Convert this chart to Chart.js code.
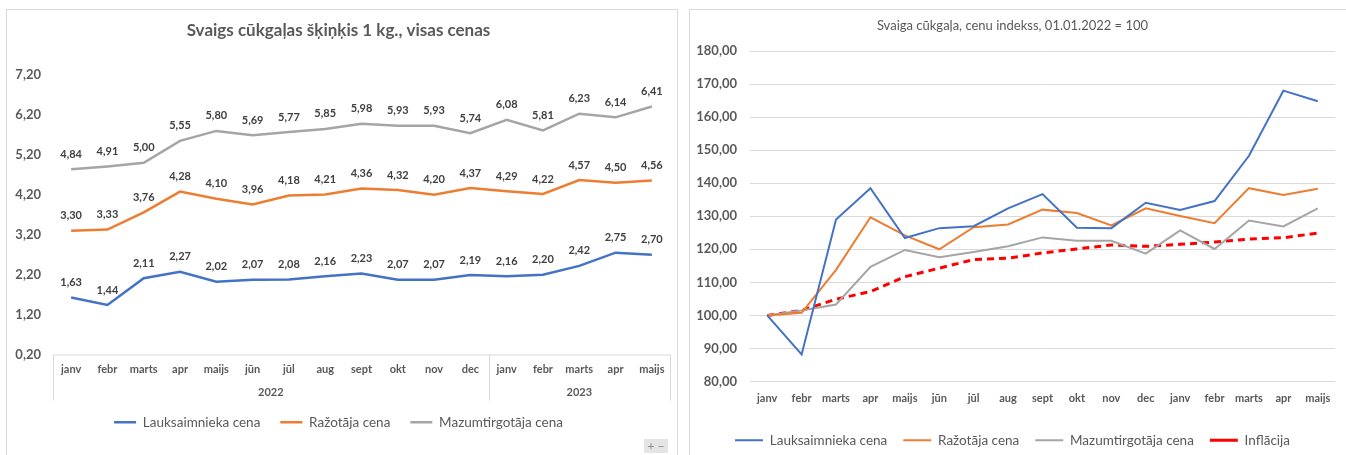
<!DOCTYPE html>
<html>
<head>
<meta charset="utf-8">
<script src="https://cdn.jsdelivr.net/npm/chart.js@4.4.1/dist/chart.umd.min.js"></script>
<style>
  body { margin:0; background:#fff; width:1346px; height:455px; overflow:hidden; position:relative; font-family:Lato, sans-serif; }
  .panel { position:absolute; border:1px solid #D9D9D9; background:#fff; }
  canvas { position:absolute; }
  .zoomctl { position:absolute; left:644px; top:439px; width:24px; height:14px; background:#E4E4E4; color:#8C8C8C; font-size:12px; line-height:13px; text-align:center; }
</style>
</head>
<body>
<div class="panel" style="left:6px;top:9px;width:670px;height:460px"></div>
<div class="panel" style="left:689px;top:9px;width:670px;height:460px"></div>
<canvas id="priceChart" width="670" height="460" style="left:7px;top:10px"></canvas>
<canvas id="indexChart" width="656" height="460" style="left:690px;top:10px"></canvas>
<div class="zoomctl">+ &minus;</div>
<script>
// months, two years
const months = ['janv','febr','marts','apr','maijs','jūn','jūl','aug','sept','okt','nov','dec','janv','febr','marts','apr','maijs']
const yearLabels = ['2022','2023']
const yearSpans = [12, 5]

// prices EUR / kg
const farmPrice     = [1.63,1.44,2.11,2.27,2.02,2.07,2.08,2.16,2.23,2.07,2.07,2.19,2.16,2.20,2.42,2.75,2.70]
const producerPrice = [3.30,3.33,3.76,4.28,4.10,3.96,4.18,4.21,4.36,4.32,4.20,4.37,4.29,4.22,4.57,4.50,4.56]
const retailPrice   = [4.84,4.91,5.00,5.55,5.80,5.69,5.77,5.85,5.98,5.93,5.93,5.74,6.08,5.81,6.23,6.14,6.41]

// index, 01.01.2022 = 100
const farmIndex     = [100,88.2,129.0,138.5,123.4,126.4,127.0,132.4,136.7,126.5,126.4,134.1,131.9,134.6,148.3,168.0,164.8]
const producerIndex = [100,100.8,113.8,129.7,124.2,120.0,126.7,127.5,132.0,131.0,127.2,132.4,130.1,127.9,138.5,136.4,138.3]
const retailIndex   = [100,101.5,103.3,114.7,119.8,117.6,119.2,120.9,123.6,122.6,122.6,118.7,125.7,120.1,128.7,126.9,132.4]
const inflation     = [100,101.5,104.9,107.2,111.7,114.3,116.9,117.3,118.9,120.1,121.3,120.9,121.5,122.2,123.1,123.5,124.9]

const seriesNames = ['Lauksaimnieka cena','Ražotāja cena','Mazumtirgotāja cena','Inflācija']
const BLUE = '#4472C4', ORANGE = '#ED7D31', GRAY = '#A5A5A5', RED = '#FF0000'
const TXT = '#595959'

Chart.defaults.font.family = "Lato, 'Open Sans', sans-serif"
Chart.defaults.color = TXT
Chart.defaults.animation = false

const comma = (v, d) => Number(v).toFixed(d).replace('.', ',')

// value labels above each point
const valueLabels = {
  id:'valueLabels',
  afterDatasetsDraw(chart){
    const ctx = chart.ctx
    ctx.save()
    ctx.font = "bold 11px Lato, sans-serif"
    ctx.fillStyle = '#404040'
    ctx.textAlign = 'center'
    ctx.textBaseline = 'middle'
    chart.data.datasets.forEach((ds, i) => {
      chart.getDatasetMeta(i).data.forEach((pt, j) => {
        ctx.fillText(comma(ds.data[j], 2), pt.x, pt.y - 15)
      })
    })
    ctx.restore()
  }
}

// second row of category axis with years and frame lines
const yearAxis = {
  id:'yearAxis',
  afterDraw(chart){
    const x = chart.scales.x, ctx = chart.ctx
    const top = x.top, bottom = x.top + 46
    const step = (x.right - x.left) / months.length
    ctx.save()
    ctx.strokeStyle = '#D9D9D9'
    ctx.lineWidth = 1
    ctx.beginPath()
    ctx.moveTo(x.left, top + 0.5); ctx.lineTo(x.right, top + 0.5)
    let start = 0
    const edges = [x.left]
    yearSpans.forEach(n => { start += n; edges.push(x.left + start * step) })
    edges.forEach(px => { ctx.moveTo(Math.round(px) + 0.5, top); ctx.lineTo(Math.round(px) + 0.5, bottom) })
    ctx.stroke()
    ctx.font = "bold 11px Lato, sans-serif"
    ctx.fillStyle = TXT
    ctx.textAlign = 'center'
    ctx.textBaseline = 'middle'
    yearLabels.forEach((lab, i) => ctx.fillText(lab, (edges[i] + edges[i+1]) / 2, top + 38))
    ctx.restore()
  }
}

const line = (label, data, color, extra) => Object.assign({
  label, data, borderColor:color, backgroundColor:color, borderWidth:2.5,
  pointRadius:0, tension:0, fill:false
}, extra || {})

new Chart(document.getElementById('priceChart'), {
  type:'line',
  data:{ labels:months, datasets:[
    line(seriesNames[0], farmPrice, BLUE),
    line(seriesNames[1], producerPrice, ORANGE),
    line(seriesNames[2], retailPrice, GRAY)
  ]},
  options:{
    responsive:false,
    layout:{ padding:{ left:0, right:7, top:0, bottom:31 } },
    plugins:{
      title:{ display:true, text:'Svaigs cūkgaļas šķiņķis 1 kg., visas cenas', color:TXT,
        font:{ size:17, weight:'bold' }, padding:{ top:10, bottom:34.6 } },
      legend:{ position:'bottom', labels:{ usePointStyle:true, pointStyle:'line', pointStyleWidth:22,
        boxHeight:10, padding:20, color:TXT, font:{ size:13.5 } } },
      tooltip:{ enabled:false }
    },
    scales:{
      x:{ offset:true, grid:{ display:false, drawTicks:false }, border:{ display:false },
        ticks:{ padding:8, maxRotation:0, autoSkip:false, color:TXT, font:{ size:11, weight:'bold' } },
        afterFit(s){ s.height = 41 } },
      y:{ min:0.2, max:7.2, grid:{ display:false, drawTicks:false }, border:{ display:false },
        ticks:{ stepSize:1, padding:12, color:TXT, font:{ size:13, weight:'bold' }, callback:v => comma(v, 2) },
        afterFit(s){ s.width = 46 } }
    }
  },
  plugins:[valueLabels, yearAxis]
})

new Chart(document.getElementById('indexChart'), {
  type:'line',
  data:{ labels:months, datasets:[
    line(seriesNames[0], farmIndex, BLUE, { borderWidth:2 }),
    line(seriesNames[1], producerIndex, ORANGE, { borderWidth:2 }),
    line(seriesNames[2], retailIndex, GRAY, { borderWidth:2 }),
    line(seriesNames[3], inflation, RED, { borderWidth:3, borderDash:[7,5] })
  ]},
  options:{
    responsive:false,
    layout:{ padding:{ left:0, right:11, top:0, bottom:13 } },
    plugins:{
      title:{ display:true, text:'Svaiga cūkgaļa, cenu indekss, 01.01.2022 = 100', color:TXT,
        font:{ size:13, weight:'normal' }, padding:{ top:8, bottom:17.4 } },
      legend:{ position:'bottom', labels:{ usePointStyle:true, pointStyle:'line', pointStyleWidth:28,
        boxHeight:10, padding:16, color:TXT, font:{ size:13.5 } } },
      tooltip:{ enabled:false }
    },
    scales:{
      x:{ offset:true, grid:{ display:false, drawTicks:false }, border:{ display:false },
        ticks:{ padding:10, maxRotation:0, autoSkip:false, color:TXT, font:{ size:11, weight:'bold' } },
        afterFit(s){ s.height = 36 } },
      y:{ min:80, max:180, grid:{ color:'#D9D9D9', drawTicks:false }, border:{ display:false },
        ticks:{ stepSize:10, padding:13, color:TXT, font:{ size:13, weight:'bold' }, callback:v => comma(v, 2) },
        afterFit(s){ s.width = 60 } }
    }
  }
})
</script>
</body>
</html>
